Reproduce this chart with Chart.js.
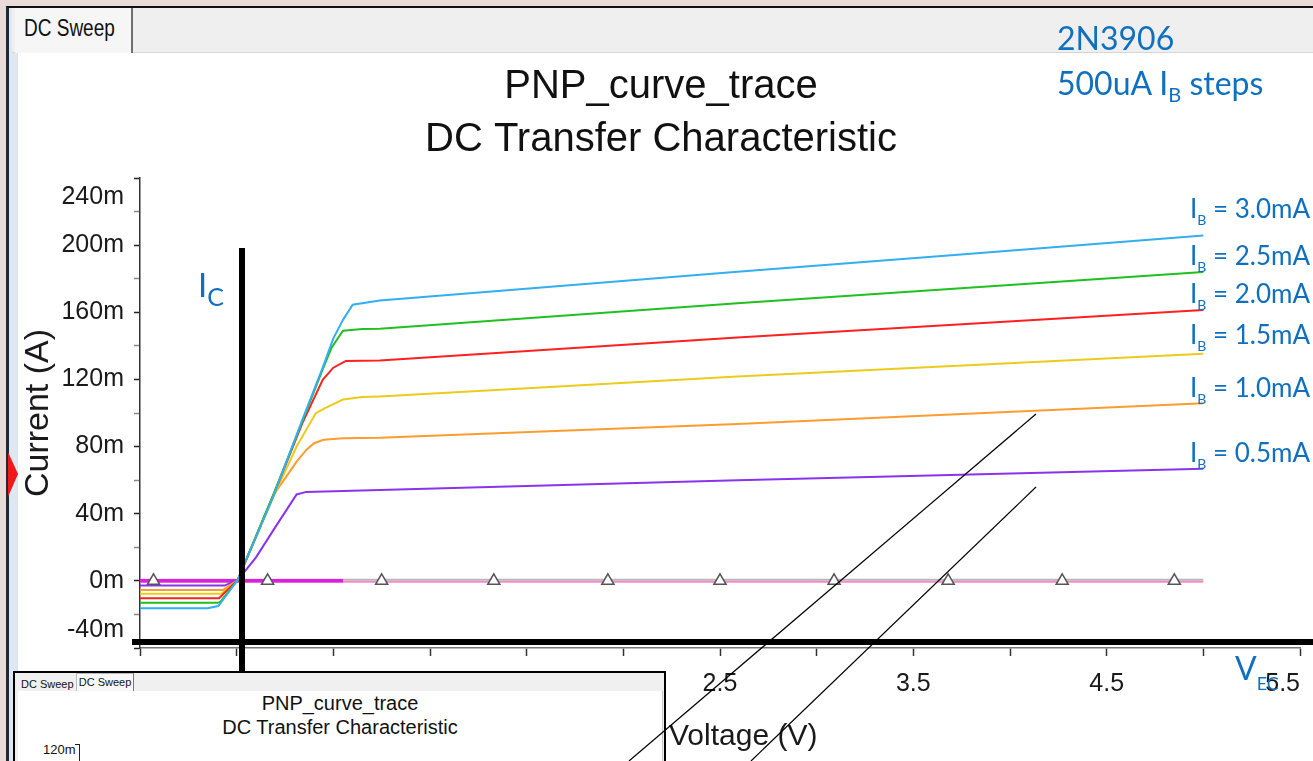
<!DOCTYPE html>
<html>
<head>
<meta charset="utf-8">
<title>PNP_curve_trace - DC Sweep</title>
<script src="https://cdn.jsdelivr.net/npm/chart.js@4.4.1/dist/chart.umd.min.js"></script>
<style>
  html,body{margin:0;padding:0}
  body{position:relative;width:1313px;height:761px;overflow:hidden;background:#e9dcd8;font-family:"Liberation Sans",Arial,sans-serif}
  .abs{position:absolute}
  .note{position:absolute;color:#1070c0;font-family:Lato,"Open Sans",sans-serif;white-space:nowrap}
  .note .sb{position:relative}
  .ib{font-size:26px;line-height:26px;left:1190px}
  .ib .sb{font-size:14px;top:7px}
  .tabtxt{display:inline-block;transform:scaleY(1.25);transform-origin:50% 50%}
  #inset{left:13px;top:671px;width:653px;height:92px;border:2px solid #000;border-bottom:none;background:#f0f0f0;box-sizing:border-box}
  #inset .t{position:absolute;font-size:11px;line-height:16px;color:#111;white-space:nowrap}
  #inset .ttl{position:absolute;left:0;width:650px;text-align:center;font-size:20px;line-height:24px;color:#111}
</style>
</head>
<body>

<!-- window frame behind the chart -->
<div class="abs" style="left:6px;top:6px;width:1307px;height:755px;background:#dde8f2;border-left:3px solid #1e2a38;border-top:2px solid #111;box-sizing:border-box"></div>
<div class="abs" style="left:12px;top:8px;width:1301px;height:45px;background:#efefef;border-bottom:1px solid #d6d6d6;box-sizing:border-box"></div>
<div class="abs" style="left:15px;top:8px;width:118px;height:45px;background:#f6f6f6;border-right:2px solid #707070;box-sizing:border-box;font-size:19px;color:#111;padding:9px 0 0 9px"><span class="tabtxt">DC Sweep</span></div>
<div class="abs" style="left:17px;top:53px;width:1296px;height:708px;background:#fff;border-left:1px solid #e2e2e2;box-sizing:border-box"></div>
<svg class="abs" style="left:0;top:0" width="30" height="761"><polygon points="8,452 18,474 8,497" fill="#f01818"/></svg>

<canvas id="curveChart" class="abs" width="1313" height="761" style="left:0;top:0"></canvas>

<!-- hand drawn marks on the screenshot -->
<div class="abs" style="left:239px;top:248px;width:6px;height:424px;background:#000"></div>
<div class="abs" style="left:132px;top:639px;width:1181px;height:6px;background:#000"></div>

<div class="note" style="left:1057px;top:22px;font-size:32px;line-height:32px">2N3906</div>
<div class="note" style="left:1057px;top:67px;font-size:32px;line-height:32px">500uA I<span class="sb" style="font-size:20px;top:7px">B</span> steps</div>
<div class="note" style="left:198px;top:268px;font-size:33px;line-height:33px">I<span class="sb" style="font-size:25px;top:9px">C</span></div>
<div class="note" style="left:1235px;top:652px;font-size:32px;line-height:32px">V<span class="sb" style="font-size:18px;top:10px">EC</span></div>
<div class="note ib" style="top:195px">I<span class="sb">B</span> = 3.0mA</div>
<div class="note ib" style="top:242px">I<span class="sb">B</span> = 2.5mA</div>
<div class="note ib" style="top:280px">I<span class="sb">B</span> = 2.0mA</div>
<div class="note ib" style="top:321px">I<span class="sb">B</span> = 1.5mA</div>
<div class="note ib" style="top:374px">I<span class="sb">B</span> = 1.0mA</div>
<div class="note ib" style="top:439px">I<span class="sb">B</span> = 0.5mA</div>

<!-- second probe window pasted on top -->
<div id="inset" class="abs">
  <div class="t" style="left:6px;top:3px">DC Sweep</div>
  <div class="t" style="left:61px;top:0;width:58px;height:18px;background:#f8f8f8;border:1px solid #bbb;border-bottom:none;border-right:1px solid #777;text-align:center;box-sizing:border-box">DC Sweep</div>
  <div class="abs" style="left:3px;top:18px;width:644px;height:80px;background:#fff;border-right:1px solid #c8c8c8"></div>
  <div class="ttl" style="top:18px">PNP_curve_trace</div>
  <div class="ttl" style="top:42px">DC Transfer Characteristic</div>
  <div class="t" style="left:28px;top:69px;font-size:13px;width:32px;text-align:right">120m</div>
  <div class="abs" style="left:60px;top:71px;width:4px;height:20px;border-top:1px solid #222;border-right:1px solid #222"></div>
</div>

<svg class="abs" style="left:0;top:0;pointer-events:none" width="1313" height="761">
  <line x1="1036" y1="414" x2="629" y2="761" stroke="#000" stroke-width="1.2"/>
  <line x1="1036" y1="487" x2="751" y2="761" stroke="#000" stroke-width="1.2"/>
</svg>

<script>
// collector current (mA) against emitter-collector voltage (V), one pair per base current step
const vecIb30 = [-0.5, -0.15, -0.095, 0.005, 0.19, 0.34, 0.445, 0.5, 0.55, 0.6, 0.74, 2.59, 3.73, 5.0];
const icIb30  = [-16.3, -16.3, -15, 0.5, 50.5, 96, 127, 144.5, 155.5, 164.5, 167.0, 184.2, 194.3, 205.8];
const vecIb25 = [-0.5, -0.1, -0.085, 0.005, 0.19, 0.34, 0.445, 0.49, 0.55, 0.65, 0.74, 2.59, 5.0];
const icIb25  = [-13.1, -13.1, -12.5, 0.5, 51.5, 95, 126, 138.7, 149, 150, 150.2, 165.4, 184.0];
const vecIb20 = [-0.5, -0.091, 0.005, 0.19, 0.34, 0.445, 0.5, 0.565, 0.74, 2.59, 5.0];
const icIb20  = [-10.4, -10.4, 0.5, 51, 94, 119.8, 127, 131, 131.3, 145.0, 161.3];
const vecIb15 = [-0.5, -0.079, 0.005, 0.19, 0.31, 0.36, 0.41, 0.46, 0.55, 0.65, 0.74, 2.59, 5.0];
const icIb15  = [-7.7, -7.7, 0.5, 50, 80, 90, 100, 103, 108, 109.5, 109.9, 121.8, 135.3];
const vecIb10 = [-0.5, -0.07, 0.005, 0.19, 0.31, 0.36, 0.40, 0.45, 0.55, 0.74, 2.59, 5.0];
const icIb10  = [-5.4, -5.4, 0.5, 51, 71, 78, 82, 84, 85, 85.2, 93.5, 105.8];
const vecIb05 = [-0.5, -0.062, 0.01, 0.1, 0.2, 0.31, 0.36, 0.55, 0.74, 2.59, 5.0];
const icIb05  = [-2.8, -2.8, 1, 14, 32, 51.5, 53, 53.5, 54.1, 60.0, 66.8];

// flat traces along zero and their triangle markers
const zeroVec   = [-0.5, 5.0];
const zeroTopIc = [0.6, 0.6];
const zeroLowIc = [-0.6, -0.6];
const magVec    = [-0.5, 0.55];
const magIc     = [0, 0];
const markerVec = [-0.43, 0.16, 0.75, 1.33, 1.92, 2.5, 3.09, 3.68, 4.27, 4.85];

const yTicksMin = -40, yTicksMax = 240, yStep = 20;
const xTicksMin = -0.5, xTicksMax = 5.5, xStep = 0.5;

function pts(xs, ys){ return xs.map((v,i)=>({x:v, y:ys[i]})); }

const tickFam = '"Liberation Sans", Arial';
const tickSize = 25;
const xTitleSize = 30;

const curves = [
  ['IB = 3.0mA', vecIb30, icIb30, '#33aef0'],
  ['IB = 2.5mA', vecIb25, icIb25, '#20c020'],
  ['IB = 2.0mA', vecIb20, icIb20, '#ff2020'],
  ['IB = 1.5mA', vecIb15, icIb15, '#eccb1c'],
  ['IB = 1.0mA', vecIb10, icIb10, '#ff9c30'],
  ['IB = 0.5mA', vecIb05, icIb05, '#8a33ee']
];

const datasets = [{
  label:'markers', data: markerVec.map(v=>({x:v, y:0})), showLine:false,
  pointStyle:'triangle', pointRadius:7, pointBorderColor:'#555', pointBackgroundColor:'#fff', pointBorderWidth:1.5
}];
curves.forEach(c=>{
  datasets.push({label:c[0], data:pts(c[1], c[2]), borderColor:c[3], borderWidth:2, pointRadius:0, tension:0});
});
datasets.push({label:'zero', data:pts(magVec, magIc), borderColor:'#dc1ee0', borderWidth:3.5, pointRadius:0});
datasets.push({label:'zero2', data:pts(zeroVec, zeroLowIc), borderColor:'#f38cc6', borderWidth:2, pointRadius:0});
datasets.push({label:'zero1', data:pts(zeroVec, zeroTopIc), borderColor:'#b8b8b8', borderWidth:2, pointRadius:0});

// the end labels sit inside the axis ends, like the simulator draws them
const endLabels = {
  id:'endLabels',
  afterDraw(chart){
    const {ctx, chartArea, scales:{x, y}} = chart;
    ctx.save();
    ctx.fillStyle='#1a1a1a';
    ctx.font = tickSize+'px '+tickFam;
    ctx.textBaseline='middle';
    ctx.textAlign='right';
    ctx.fillText(yTicksMax+'m', chartArea.left-16, y.getPixelForValue(yTicksMax)+19);
    ctx.fillText(yTicksMin+'m', chartArea.left-16, y.getPixelForValue(yTicksMin)-18);
    ctx.fillText(xTicksMax.toFixed(1), x.getPixelForValue(xTicksMax), chartArea.bottom+36);
    ctx.textAlign='left';
    ctx.font = xTitleSize+'px '+tickFam;
    ctx.fillText('Voltage (V)', chartArea.left+(chartArea.right-chartArea.left)/2-51, chartArea.bottom+89);
    ctx.restore();
  }
};

new Chart(document.getElementById('curveChart'), {
  type:'line',
  data:{datasets},
  plugins:[endLabels],
  options:{
    responsive:false, animation:false,
    layout:{padding:{left:18, right:9, top:0, bottom:0}},
    plugins:{
      legend:{display:false}, tooltip:{enabled:false},
      title:{display:true, text:['PNP_curve_trace','DC Transfer Characteristic'], color:'#111',
        font:{family:'"Liberation Sans", Arial', size:40, weight:'normal', lineHeight:1.325},
        padding:{top:60, bottom:12}}
    },
    scales:{
      x:{type:'linear', min:xTicksMin, max:xTicksMax,
        afterFit:s=>{ s.height=113; },
        border:{display:true, color:'#777', width:1.5},
        grid:{drawOnChartArea:false, tickLength:8, tickColor:'#333', tickWidth:1.5},
        ticks:{stepSize:xStep, maxTicksLimit:100, autoSkip:false, maxRotation:0, color:'#1a1a1a',
          padding:13, font:{family:tickFam, size:tickSize},
          callback:v=>{ const r=Math.round(v*2); return (Math.abs(r)%2===1 && v!==xTicksMax) ? v.toFixed(1) : ''; }}
      },
      y:{type:'linear', min:yTicksMin, max:yTicksMax,
        afterFit:s=>{ s.width=122; },
        border:{display:true, color:'#333', width:1.5},
        grid:{drawOnChartArea:false, tickLength:6, tickWidth:1.5,
          tickColor:c=> (c.tick && c.tick.value%40===0) ? '#222' : '#888'},
        ticks:{stepSize:yStep, maxTicksLimit:100, autoSkip:false, color:'#1a1a1a', padding:10,
          font:{family:tickFam, size:tickSize},
          callback:v=> (v%40===0 && v!==yTicksMax && v!==yTicksMin) ? v+'m' : ''},
        title:{display:true, text:'Current (A)', color:'#1a1a1a', padding:{top:0, bottom:0},
          font:{family:'"Liberation Sans", Arial', size:34, lineHeight:1.2}}
      }
    }
  }
});
</script>
</body>
</html>
